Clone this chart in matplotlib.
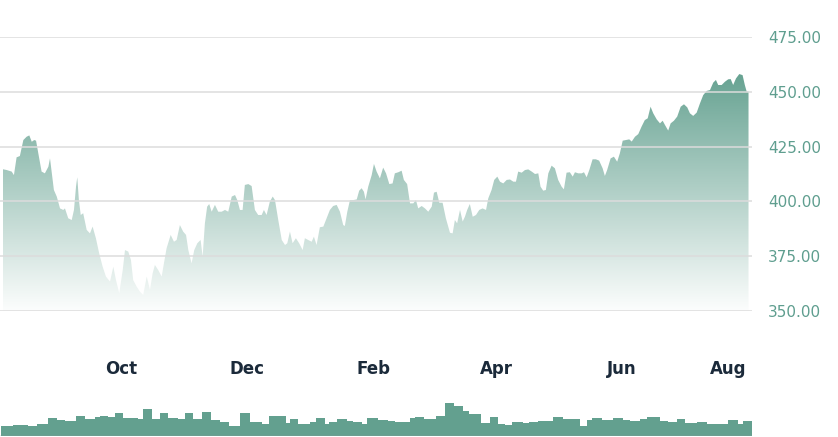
import datetime
import numpy as np
import matplotlib.pyplot as plt
from matplotlib.colors import LinearSegmentedColormap
from matplotlib.patches import Polygon

start = datetime.date(2023, 8, 4)  # first session on the chart

# days since start, closing price
days = [0.0, 2.0, 4.4, 5.5, 6.8, 8.4, 10.1, 11.7, 13.0, 14.2, 15.4, 16.3, 17.4, 19.0, 20.6, 22.3, 23.1, 24.2, 25.0, 26.4,
        28.0, 29.6, 30.4, 32.0, 33.7, 34.8, 35.8, 36.4, 37.2, 38.1, 39.3, 41.0, 42.6, 43.9, 45.5, 47.1, 48.8, 50.4, 52.4, 54.0,
        55.3, 56.9, 58.6, 59.7, 61.3, 62.6, 63.7, 65.4, 67.0, 68.6, 70.3,
        71.9, 73.2, 74.3, 75.9, 77.6, 78.7, 80.0, 82.0, 83.6, 84.9, 86.5, 88.1, 89.5, 90.6, 92.2, 93.5, 95.0, 96.6, 97.6, 98.7,
        99.8, 100.8, 102.0, 103.6, 105.2, 106.9, 108.5, 110.1, 111.8, 113.4, 114.5, 115.8, 117.1, 118.2, 119.9, 121.5, 123.1,
        124.7, 126.4, 127.5, 128.8, 130.4, 131.8, 132.9, 134.5, 136.2, 137.8, 138.9, 140.2, 141.5, 143.1, 144.7,
        146.4, 147.5, 149.1, 150.8, 151.9, 153.2, 154.8, 156.5, 158.1, 159.7, 161.3, 163.0, 164.6, 166.2, 167.0, 168.2, 169.5,
        171.1, 172.8, 174.0, 175.2, 176.3, 177.1, 178.4, 180.1, 181.2, 182.5, 184.1, 185.7, 187.1, 188.7, 190.3, 191.4, 193.1,
        194.7, 195.8, 197.4, 198.8, 200.4, 201.7, 202.8, 204.5, 206.1, 207.7, 209.4, 210.5, 211.8, 213.1, 214.7, 216.3,
        218.3, 219.6, 220.7, 221.8, 223.2, 224.5, 225.6, 226.7, 228.0, 229.4, 231.0, 232.6, 234.2, 235.9, 237.0, 238.6, 239.9,
        241.4, 242.7, 244.3, 246.0, 247.6, 249.2, 250.5, 251.6, 253.3, 254.9, 256.5, 258.2, 259.8, 261.4, 262.5, 263.8, 265.1,
        266.3, 267.9, 269.5, 271.1, 272.8, 273.9, 275.2, 276.8, 278.2, 279.3, 280.9, 282.6, 283.7, 285.0, 286.3, 287.9, 289.5, 291.1,
        292.8, 293.9, 295.0, 296.7, 298.3, 299.9, 301.2, 302.6, 304.2, 305.8, 307.0, 308.6, 310.2, 311.8, 313.4, 314.8, 316.2,
        317.5, 319.2, 320.8, 322.1, 323.2, 324.8, 326.0, 327.6, 329.2, 330.9, 332.5, 334.1, 335.4, 337.0, 338.7, 340.3, 341.9,
        343.6, 345.2, 346.8, 348.1, 349.2, 350.9, 352.5, 354.1, 355.3, 356.5, 357.9, 359.5, 361.1, 362.2, 363.1, 364.0]

prices = [414.7, 414.3, 413.6, 412.0, 420.1, 420.7, 428.0, 429.5, 430.1, 427.2, 428.0, 427.7, 421.9, 413.6, 412.8, 415.8,
          419.6, 411.3, 405.2, 402.2, 396.8, 396.1, 396.8, 392.3, 391.5, 396.1, 406.7, 411.0, 400.6, 393.8, 394.6, 387.0,
          385.4, 388.5, 383.2, 376.3, 370.2, 365.7, 363.4, 370.2, 364.1, 358.1, 368.7, 377.8, 377.1, 373.3, 364.1, 361.1,
          358.8, 357.3, 365.7,
          359.6, 367.2, 371.0, 368.7, 365.7, 371.7, 378.6, 384.7, 381.6, 382.4, 389.2, 386.2, 384.7, 377.8, 371.7, 377.8,
          380.9, 382.4, 374.8, 390.0, 397.6, 398.8, 395.3, 398.4, 395.3, 395.3, 396.1, 395.3, 402.2, 402.9, 400.6, 396.1,
          396.1, 407.5, 407.9, 407.0, 396.1, 393.8, 393.8, 396.1, 393.8, 399.9, 402.2, 400.6, 391.5, 382.4, 380.1, 380.9,
          386.2, 380.9, 383.2, 380.9,
          377.8, 383.2, 382.4, 381.6, 383.9, 380.1, 388.2, 388.5, 392.3, 396.1, 397.9, 398.4, 395.3, 389.2, 388.8, 395.3,
          400.6, 400.6, 400.9, 404.9, 406.0, 404.4, 400.9, 406.7, 412.0, 417.1, 413.6, 410.5, 415.4, 412.8, 407.9, 408.2,
          412.8, 413.3, 414.0, 409.8, 407.9, 399.1, 399.1, 400.6, 396.8, 397.9, 396.8, 395.3, 397.6, 404.0, 404.4, 399.4,
          399.4, 392.3,
          385.7, 385.4, 391.5, 390.0, 396.1, 390.8, 393.0, 396.1, 398.8, 393.0, 393.8, 396.1, 396.8, 396.1, 401.4, 405.2,
          409.8, 411.3, 409.0, 408.2, 409.8, 410.0, 409.0, 409.0, 413.6, 413.1, 414.3, 414.6, 413.6, 412.5, 412.8, 406.7,
          404.9, 405.2, 412.8, 416.3, 415.1, 409.8, 406.7, 405.5, 413.1, 413.3, 411.3, 413.3, 412.8, 412.8, 413.3, 411.0,
          414.3, 419.2, 419.2, 418.6,
          415.1, 411.6, 414.3, 419.6, 420.4, 418.1, 421.9, 427.7, 428.0, 428.3, 427.3, 429.5, 430.7, 434.1, 437.1, 437.9,
          443.2, 440.2, 437.4, 435.6, 436.8, 434.9, 432.3, 435.6, 436.8, 438.7, 443.2, 444.3, 442.9, 440.2, 439.0, 440.5,
          444.7, 448.5, 450.4, 450.8, 454.2, 455.4, 453.1, 453.1, 454.6, 455.7, 455.8, 453.1, 456.1, 458.1, 457.6, 453.1,
          450.1, 450.1]

# volume: bucket edges (days since start) and volume per bucket (millions)
vol_edges = [-0.8, 5.2, 12.5, 16.6, 22.3, 26.4, 30.4, 35.8, 40.2, 45.0, 47.5, 51.5, 54.8, 58.9, 62.1, 66.2, 68.3, 72.7,
             76.8, 80.8, 85.7, 89.0, 93.0, 97.1, 101.5, 106.0, 110.6, 115.8, 120.7, 126.4, 130.1, 134.5, 138.3, 140.2,
             144.3, 150.0, 152.9, 157.3, 159.2, 163.0, 167.9, 171.1, 175.2, 177.6, 183.3, 188.2, 191.4, 198.8, 201.2,
             205.6, 211.5, 215.8, 220.2, 224.8, 227.7, 233.4, 237.8, 241.9, 245.1, 248.4, 254.1, 257.0, 261.4, 268.7,
             273.6, 277.7, 281.7, 285.0, 287.4, 292.3, 298.0, 302.9, 306.1, 311.0, 314.3, 320.9, 324.8, 328.9, 333.0,
             338.7, 343.6, 347.6, 354.1, 359.0, 361.4, 365.5]
vol = [28.6, 30.6, 28.6, 32.5, 49.2, 44.5, 42.5, 56.4, 47.3, 53.7, 56.4, 53.7, 63.1, 49.2, 49.2, 46.4, 74.2, 47.3, 63.1,
       49.2, 47.3, 63.1, 47.3, 67.6, 44.5, 39.8, 28.6, 63.1, 39.8, 32.5, 56.4, 56.4, 37.0, 46.4, 32.5, 39.8, 49.2, 32.5,
       39.8, 46.4, 42.5, 39.8, 32.5, 49.2, 43.6, 41.7, 39.8, 50.0, 53.7, 47.3, 56.4, 90.9, 84.2, 69.5, 60.3, 35.3, 52.8,
       32.5, 30.6, 39.8, 35.3, 38.1, 42.5, 52.0, 47.3, 46.4, 28.6, 44.5, 49.2, 44.5, 49.2, 44.5, 41.7, 47.3, 52.8, 41.7,
       39.8, 47.3, 37.0, 39.8, 34.2, 32.5, 43.6, 32.5, 42.5]

month_labels = ['Oct', 'Dec', 'Feb', 'Apr', 'Jun', 'Aug']
month_dates = [datetime.date(2023, 10, 1), datetime.date(2023, 12, 1), datetime.date(2024, 2, 1),
               datetime.date(2024, 4, 1), datetime.date(2024, 6, 1), datetime.date(2024, 8, 1)]
price_ticks = [350, 375, 400, 425, 450, 475]

teal = '#63a08f'
W, H = 838, 437
fig = plt.figure(figsize=(W / 100, H / 100), dpi=100)

# price panel
ax = fig.add_axes([0, (H - 311) / H, 752 / W, (311 - 37) / H])
ax.set_xlim(-1.3, 365.7)
ax.set_ylim(350, 475)

verts = [(days[0], 350)] + list(zip(days, prices)) + [(days[-1], 350)]
clip = Polygon(verts, closed=True, facecolor='none', edgecolor='none')
ax.add_patch(clip)
cmap = LinearSegmentedColormap.from_list('fade', ['#ffffff', '#64a190'])
grad = np.linspace(0, 1, 256).reshape(-1, 1)
im = ax.imshow(grad, extent=[days[0], days[-1], 348, 460], origin='lower', aspect='auto', cmap=cmap, zorder=1)
im.set_clip_path(clip)

for p in price_ticks:
    ax.axhline(p, color='#dcdcdc', lw=1.1, zorder=3)

ax.yaxis.tick_right()
ax.set_yticks(price_ticks, ['%.2f' % p for p in price_ticks])
ax.tick_params(axis='y', length=0, pad=11.5, labelsize=11, labelcolor='#5f9e8f')

ticks = [(d - start).days for d in month_dates]
ax.set_xticks(ticks, month_labels)
ax.tick_params(axis='x', length=0, pad=35)
for lab in ax.get_xticklabels():
    lab.set_fontweight('bold')
    lab.set_fontsize(12)
    lab.set_color('#1b2a3a')
ax.get_xticklabels()[-1].set_ha('right')

for s in ax.spines.values():
    s.set_visible(False)

# volume panel
axv = fig.add_axes([0, 1 / H, 752 / W, 36 / H])
axv.set_xlim(-1.3, 365.7)
axv.set_ylim(0, 100)
axv.stairs(vol, vol_edges, fill=True, color=teal, lw=0)
axv.axhline(0, color='#9a9a9a', lw=1)
axv.axis('off')

fig.savefig('out.png', dpi=100)
